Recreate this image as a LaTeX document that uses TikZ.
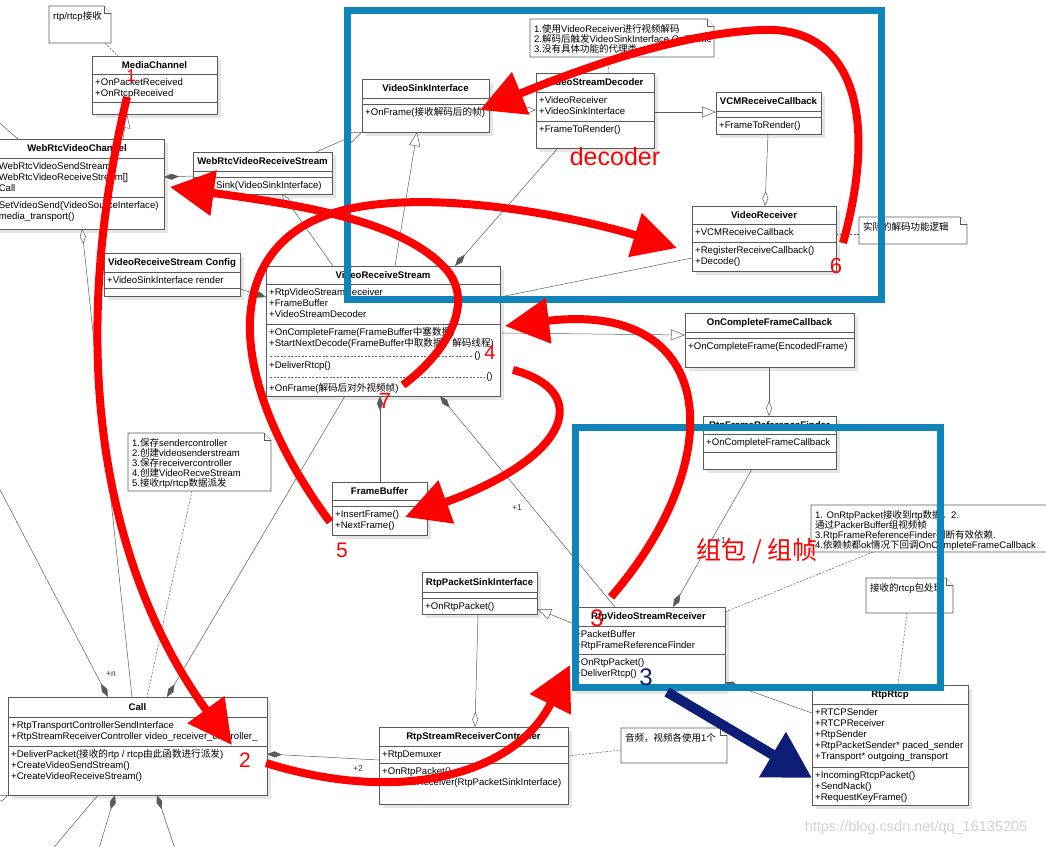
\documentclass[tikz,border=0pt]{standalone}
\usepackage{fontspec}
\setmainfont{Liberation Sans}
\newfontfamily\cjk{Noto Sans CJK SC}
\usepackage{tikz}
\usetikzlibrary{arrows.meta,calc,shadows}

\definecolor{framecol}{RGB}{14,132,185}
\definecolor{navycol}{RGB}{14,30,120}
\definecolor{umlgray}{RGB}{90,90,90}

\newcommand{\zh}[1]{{\cjk #1}}

% class box: name, top-left, width, title h, attr h, op h, title, attributes, operations
\newcommand{\umlclass}[9]{%
  \node[classbox, minimum width=#3pt, minimum height={(#4+#5+#6)*1pt}] (#1) at (#2) {};
  \draw[sepline] ([yshift=-#4pt]#1.north west) -- ([yshift=-#4pt]#1.north east);
  \draw[sepline] ([yshift={-(#4+#5)*1pt}]#1.north west) -- ([yshift={-(#4+#5)*1pt}]#1.north east);
  \node[classname] (#1-name) at ([yshift={-#4*0.5pt}]#1.north) {#7};
  \node[member] (#1-attr) at ([xshift=3pt, yshift={-(#4+2.2)*1pt}]#1.north west) {\rule{0pt}{8.6pt}#8};
  \node[member] (#1-ops) at ([xshift=3pt, yshift={-(#4+#5+2.2)*1pt}]#1.north west) {\rule{0pt}{8.6pt}#9};
}

% note: name, top-left, width, height, text
\newcommand{\umlnote}[5]{%
  \node[notespot, minimum width=#3pt, minimum height=#4pt] (#1) at (#2) {};
  \draw[notebox] (#1.north west) -- ([xshift=-7pt]#1.north east) -- ([yshift=-7pt]#1.north east) -- (#1.south east) -- (#1.south west) -- cycle;
  \draw[notebox] ([xshift=-7pt]#1.north east) -- ([xshift=-7pt,yshift=-7pt]#1.north east) -- ([yshift=-7pt]#1.north east);
  \node[notetext] (#1-text) at ([xshift=4pt,yshift=-4.7pt]#1.north west) {\rule{0pt}{8.6pt}#5};
}

\begin{document}
\begin{tikzpicture}[x=1pt, y=-1pt,
    classbox/.style={draw=umlgray, fill=white, line width=0.6pt, anchor=north west, inner sep=0pt, outer sep=0pt, drop shadow={fill=black!10, opacity=1, shadow xshift=4pt, shadow yshift=-4pt}},
    sepline/.style={draw=umlgray, line width=0.6pt},
    classname/.style={font=\fontsize{9.6}{11}\selectfont\bfseries, inner sep=0pt, text height=6.6pt, text depth=0pt},
    member/.style={font=\fontsize{9.6}{11.2}\selectfont, align=left, inner sep=0pt, anchor=north west},
    notespot/.style={anchor=north west, inner sep=0pt, outer sep=0pt},
    notebox/.style={draw=umlgray, fill=white, line width=0.6pt},
    notetext/.style={font={\fontsize{9.5}{9.9}\selectfont\lineskiplimit=-20pt}, align=left, inner sep=0pt, anchor=north west},
    umlline/.style={draw=umlgray, line width=0.5pt},
    realize/.style={umlline, -{Triangle[fill=white, length=14pt, width=11pt]}},
    aggr/.style={umlline, {Diamond[fill=white, length=15pt, width=6pt]}-},
    comp/.style={umlline, {Diamond[length=15pt, width=6pt]}-},
    notelink/.style={umlline, dash pattern=on 2pt off 1.5pt},
    dashsep/.style={draw=black!60, line width=0.5pt, dash pattern=on 2.2pt off 1.3pt},
    mult/.style={font=\fontsize{8.5}{9}\selectfont, inner sep=0pt, text=black!80},
    bluebox/.style={draw=framecol, line width=7pt, anchor=north west, inner sep=0pt, outer sep=0pt},
    redarrow/.style={draw=red, line width=8pt, -{Triangle[length=44pt, width=44pt]}},
    navyarrow/.style={draw=navycol, line width=10pt, -{Triangle[length=46pt, width=50pt]}},
    rednum/.style={text=red, inner sep=0pt, font=\fontsize{21}{21}\selectfont}
  ]
  \useasboundingbox (0,0) rectangle (1046,846);
  \clip (0,0) rectangle (1046,846);

  % classes
  \umlclass{mc}{92,56}{125}{18}{28}{12}{MediaChannel}{+OnPacketReceived\\+OnRtcpReceived}{}
  \umlclass{wvc}{-10,139}{174}{19}{39}{32}{WebRtcVideoChannel}{+WebRtcVideoSendStream[]\\+WebRtcVideoReceiveStream[]\\+Call}{+SetVideoSend(VideoSourceInterface)\\+media\_transport()}
  \umlclass{wvrs}{193,152}{139}{19}{6}{17}{WebRtcVideoReceiveStream}{}{\phantom{+Set}Sink(VideoSinkInterface)}
  \umlclass{vrsc}{104,253}{136}{19}{16}{8}{VideoReceiveStream Config}{+VideoSinkInterface render}{}
  \umlclass{vsi}{362,79}{127}{19}{6}{28}{VideoSinkInterface}{}{+OnFrame(\zh{接收解码后的帧})}
  \umlclass{vsd}{536,73}{118}{19}{29}{27}{VideoStreamDecoder}{+VideoReceiver\\+VideoSinkInterface}{+FrameToRender()}
  \umlclass{vcm}{716,92}{105}{19}{6}{17}{VCMReceiveCallback}{}{+FrameToRender()}
  \umlclass{vr}{692,206}{144}{18}{18}{29}{VideoReceiver}{+VCMReceiveCallback}{+RegisterReceiveCallback()\\+Decode()}
  \umlclass{vrs}{266,266}{234}{18}{40}{72}{VideoReceiveStream}{+RtpVideoStreamReceiver\\+FrameBuffer\\+VideoStreamDecoder}{+OnCompleteFrame(FrameBuffer\zh{中塞数据})\\+StartNextDecode(FrameBuffer\zh{中取数据，解码线程})\\\mbox{}\\+DeliverRtcp()\\\mbox{}\\+OnFrame(\zh{解码后对外视频帧})}
  \draw[dashsep] ([xshift=4pt, yshift=-90pt]vrs.north west) -- ([xshift=207pt, yshift=-90pt]vrs.north west) node[member, anchor=west, xshift=1pt] {()};
  \draw[dashsep] ([xshift=4pt, yshift=-111pt]vrs.north west) -- ([xshift=219pt, yshift=-111pt]vrs.north west) node[member, anchor=west, xshift=1pt] {()};
  \umlclass{ocfc}{685,313}{169}{19}{6}{29}{OnCompleteFrameCallback}{}{+OnCompleteFrame(EncodedFrame)}
  \umlclass{rfrf}{703,416}{133}{18}{18}{17}{RtpFrameReferenceFinder}{+OnCompleteFrameCallback}{}
  \umlclass{fb}{332,482}{95}{18}{6}{29}{FrameBuffer}{}{+InsertFrame()\\+NextFrame()}
  \umlclass{rpsi}{422,572}{115}{20}{6}{16}{RtpPacketSinkInterface}{}{+OnRtpPacket()}
  \umlclass{rvsr}{572,607}{153}{19}{28}{36}{RtpVideoStreamReceiver}{+PacketBuffer\\+RtpFrameReferenceFinder}{+OnRtpPacket()\\+DeliverRtcp()}
  \umlclass{call}{8,697}{259}{20}{29}{49}{Call}{+RtpTransportControllerSendInterface\\+RtpStreamReceiverController video\_receiver\_controller\_}{+DeliverPacket(\zh{接收的}rtp / rtcp\zh{由此函数进行派发})\\+CreateVideoSendStream()\\+CreateVideoReceiveStream()}
  \umlclass{rsrc}{379,727}{189}{19}{17}{41}{RtpStreamReceiverController}{+RtpDemuxer}{+OnRtpPacket()\\+CreateReceiver(RtpPacketSinkInterface)}
  \umlclass{rr}{812,685}{156}{19}{63}{38}{RtpRtcp}{+RTCPSender\\+RTCPReceiver\\+RtpSender\\+RtpPacketSender* paced\_sender\\+Transport* outgoing\_transport}{+IncomingRtcpPacket()\\+SendNack()\\+RequestKeyFrame()}

  % notes
  \umlnote{n1}{49,6}{62}{37}{rtp/rtcp\zh{接收}}
  \umlnote{n2}{530,19}{184}{38}{1.\zh{使用}VideoReceiver\zh{进行视频解码}\\2.\zh{解码后触发}VideoSinkInterface.OnFrame\\3.\zh{没有具体功能的代理类}}
  \umlnote{n3}{859,217}{108}{27}{\zh{实际的解码功能逻辑}}
  \umlnote{n4}{128,433}{143}{58}{1.\zh{保存}sendercontroller\\2.\zh{创建}videosenderstream\\3.\zh{保存}receivercontroller\\4.\zh{创建}VideoRecveStream\\5.\zh{接收}rtp/rtcp\zh{数据派发}}
  \umlnote{n5}{811,505}{245}{47}{1. OnRtpPacket\zh{接收到}rtp\zh{数据。}2.\\\zh{通过}PackerBuffer\zh{组视频帧}\\3.RtpFrameReferenceFinder\zh{判断有效依赖}.\\4.\zh{依赖帧都}ok\zh{情况下回调}OnCompleteFrameCallback}
  \umlnote{n6}{866,578}{87}{35}{\zh{接收的}rtcp\zh{包处理}}
  \umlnote{n7}{621,728}{106}{35}{\zh{音频，视频各使用}1\zh{个}}

  % free ends
  \coordinate (offl1) at (-5,119);
  \coordinate (offl2) at (-5,480);
  \coordinate (offb1) at (50,852);
  \coordinate (offb2) at (98,852);
  \coordinate (offb3) at (176,852);
  \coordinate (offb4) at (-15,806);

  % uml links
  \draw[notelink] ([xshift=56pt]n1.south west) -- ([xshift=26pt]mc.north west);
  \draw[realize] ([xshift=133pt]wvc.north west) -- ([xshift=35pt]mc.south west);
  \draw[umlline] (offl1) -- ([xshift=28pt]wvc.north west);
  \draw[comp] ([yshift=7pt]wvc.east) -- ([yshift=-24pt]wvrs.north west);
  \draw[realize] ([xshift=123pt]wvrs.north west) -- (vsi.south west);
  \draw[aggr] ([xshift=89pt]wvrs.south west) -- ([xshift=67pt]vrs.north west);
  \draw[aggr] ([xshift=92pt]wvc.south west) -- ([xshift=124pt]call.north west);
  \draw[comp] ([yshift=-31pt]vrs.north west) -- ([yshift=-36pt]vrsc.north east);
  \draw[realize] ([xshift=129pt]vrs.north west) -- ([xshift=55pt]vsi.south west);
  \draw[comp] ([xshift=189pt]vrs.north west) -- ([xshift=22pt]vsd.south west);
  \draw[aggr] ([yshift=-37pt]vsd.north west) -- ([yshift=-31pt]vsi.north east);
  \draw[realize] ([yshift=-39pt]vsd.north east) -- ([yshift=-20pt]vcm.north west);
  \draw[notelink] ([xshift=80pt]n2.south west) -- ([xshift=72pt]vsd.north west);
  \draw[aggr] ([xshift=73pt]vr.north west) -- ([xshift=52pt]vcm.south west);
  \draw[notelink] ([yshift=-28pt]vr.north east) -- ([yshift=-17pt]n3.north west);
  \draw[umlline] ([yshift=-52pt]vr.north west) -- ([yshift=-31pt]vrs.north east);
  \draw[realize] ([yshift=-67pt]vrs.north east) -- ([yshift=-22pt]ocfc.north west);
  \draw[aggr] ([xshift=66pt]rfrf.north west) -- ([xshift=84pt]ocfc.south west);
  \draw[comp] ([xshift=101pt]rvsr.north west) -- ([xshift=49pt]rfrf.south west);
  \draw[comp] ([xshift=159pt]call.north west) -- ([xshift=79pt]vrs.south west);
  \draw[comp] ([xshift=114pt]vrs.south west) -- ([xshift=48pt]fb.north west);
  \draw[comp] ([xshift=174pt]vrs.south west) -- ([xshift=43pt]rvsr.north west);
  \draw[realize] ([yshift=-16pt]rvsr.north west) -- ([yshift=-37pt]rpsi.north east);
  \draw[aggr] ([xshift=96pt]rsrc.north west) -- ([xshift=56pt]rpsi.south west);
  \draw[notelink] ([xshift=62pt]n5.south west) -- ([yshift=-5pt]rvsr.north east);
  \draw[comp] ([yshift=-75pt]rvsr.north east) -- ([yshift=-28pt]rr.north west);
  \draw[notelink] ([xshift=41pt]n6.south west) -- ([xshift=86pt]rr.north west);
  \draw[comp] ([yshift=-57pt]call.north east) -- ([yshift=-33pt]rsrc.north west);
  \draw[notelink] ([yshift=-29pt]rsrc.north east) -- ([yshift=-22pt]n7.north west);
  \draw[comp] ([xshift=100pt]call.north west) -- (offl2);
  \draw[notelink] ([xshift=64pt]n4.south west) -- ([xshift=139pt]call.north west);
  \draw[umlline] ([xshift=90pt]call.south west) -- (offb1);
  \draw[comp] ([xshift=107pt]call.south west) -- (offb2);
  \draw[comp] ([xshift=149pt]call.south west) -- (offb3);
  \draw[aggr] (call.south west) -- (offb4);

  % multiplicities
  \node[mult] (m1) at (721,541) {+1};
  \node[mult] (m2) at (517,508) {+1};
  \node[mult] (m3) at (358,769) {+2};
  \node[mult] (m4) at (111,674) {+n};

  % blue frames
  \node[bluebox, minimum width=534pt, minimum height=289pt] (decframe) at (347,10) {};
  \node[bluebox, minimum width=365pt, minimum height=260pt] (rtpframe) at (575,427) {};

  % red call flow
  \coordinate (r1a) at (127,97);  \coordinate (r1b) at (232,745);
  \coordinate (r2a) at (266,763); \coordinate (r2b) at (570,665);
  \coordinate (r3a) at (667,692); \coordinate (r3b) at (812,778);
  \coordinate (r4a) at (611,597); \coordinate (r4b) at (505,326);
  \coordinate (r5a) at (513,370); \coordinate (r5b) at (405,517);
  \coordinate (r6a) at (330,522); \coordinate (r6m) at (300,228); \coordinate (r6b) at (677,248);
  \coordinate (r7a) at (403,385); \coordinate (r7m) at (445,268); \coordinate (r7b) at (170,187);
  \coordinate (r8a) at (843,243); \coordinate (r8m) at (760,30);  \coordinate (r8b) at (480,110);

  \draw[redarrow] (r1a) .. controls (50,420) and (140,620) .. (r1b);
  \draw[redarrow] (r2a) .. controls (400,805) and (515,775) .. (r2b);
  \draw[navyarrow] (r3a) -- (r3b);
  \draw[redarrow] (r4a) .. controls (730,460) and (720,300) .. (r4b);
  \draw[redarrow] (r5a) .. controls (590,390) and (575,455) .. (r5b);
  \draw[redarrow] (r6a) .. controls (240,400) and (220,280) .. (r6m) .. controls (380,176) and (570,215) .. (r6b);
  \draw[redarrow] (r7a) .. controls (450,350) and (475,300) .. (r7m) .. controls (400,220) and (300,205) .. (r7b);
  \draw[redarrow] (r8a) .. controls (880,110) and (850,25) .. (r8m) .. controls (680,34) and (590,65) .. (r8b);

  % step numbers
  \node[rednum, font=\fontsize{17}{17}\selectfont] (lab1) at (131,76) {1};
  \node[rednum] (lab2) at (245,760) {2};
  \node[rednum, font=\fontsize{24}{24}\selectfont] (lab3) at (597,618) {3};
  \node[rednum, text=navycol, font=\fontsize{24}{24}\selectfont] (lab3b) at (646,677) {3};
  \node[rednum, font=\fontsize{20}{20}\selectfont] (lab4) at (490,353) {4};
  \node[rednum] (lab5) at (342,550) {5};
  \node[rednum, font=\fontsize{22}{22}\selectfont] (lab6) at (836,266) {6};
  \node[rednum, font=\fontsize{22}{22}\selectfont] (lab7) at (385,401) {7};
  \node[rednum, font=\fontsize{25}{25}\selectfont] (decname) at (615,157) {decoder};
  \node[rednum, font=\fontsize{25}{25}\selectfont\cjk] (pktname) at (757,551) {组包 / 组帧};

  \node[text=black!18, inner sep=0pt, font=\fontsize{14.5}{14.5}\selectfont] (mark) at (916,828) {https://blog.csdn.net/qq\_16135205};
\end{tikzpicture}
\end{document}
